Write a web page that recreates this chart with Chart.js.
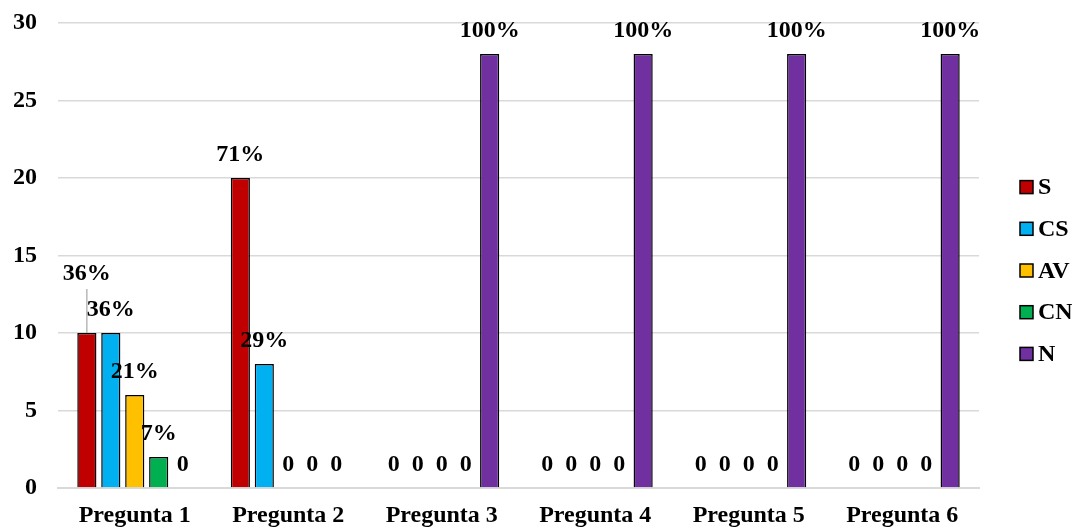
<!DOCTYPE html>
<html>
<head>
<meta charset="utf-8">
<script src="https://cdn.jsdelivr.net/npm/chart.js@4/dist/chart.umd.min.js"></script>
<style>
  html, body { margin: 0; padding: 0; background: #ffffff; }
  #wrap { width: 1072px; height: 527px; position: relative; }
</style>
</head>
<body>
<div id="wrap"><canvas id="chart"></canvas></div>
<script>
// Survey answers per question (number of respondents)
const categories = ['Pregunta 1', 'Pregunta 2', 'Pregunta 3', 'Pregunta 4', 'Pregunta 5', 'Pregunta 6'];
const seriesNames = ['S', 'CS', 'AV', 'CN', 'N'];
const valuesS  = [10, 20, 0, 0, 0, 0];
const valuesCS = [10, 8, 0, 0, 0, 0];
const valuesAV = [6, 0, 0, 0, 0, 0];
const valuesCN = [2, 0, 0, 0, 0, 0];
const valuesN  = [0, 0, 28, 28, 28, 28];
const respondents = 28;
const yTicks = [0, 5, 10, 15, 20, 25, 30];

const seriesValues = [valuesS, valuesCS, valuesAV, valuesCN, valuesN];
const seriesColors = ['#C00000', '#00B0F0', '#FFC000', '#00B050', '#7030A0'];

const FONT = "'Liberation Serif', 'Times New Roman', serif";
const FONT_SIZE = 24;

// Value labels: share of respondents, or "0" for empty answers
const valueLabels = {
  id: 'valueLabels',
  afterDatasetsDraw(chart, args, opts) {
    const ctx = chart.ctx;
    ctx.save();
    ctx.font = 'bold ' + FONT_SIZE + 'px ' + FONT;
    ctx.fillStyle = '#000';
    ctx.textAlign = 'center';
    ctx.textBaseline = 'middle';
    chart.data.datasets.forEach((ds, di) => {
      const meta = chart.getDatasetMeta(di);
      meta.data.forEach((bar, i) => {
        const v = ds.data[i];
        const text = v === 0 ? '0' : Math.round(v / respondents * 100) + '%';
        const lift = (opts.lifted.find(l => l.dataset === di && l.index === i) || {}).extra || 0;
        const y = bar.y - opts.offset - lift;
        if (lift) {
          ctx.save();
          ctx.strokeStyle = '#a6a6a6';
          ctx.lineWidth = 1.2;
          ctx.beginPath();
          ctx.moveTo(bar.x, y + 15);
          ctx.lineTo(bar.x, bar.y);
          ctx.stroke();
          ctx.restore();
        }
        ctx.fillText(text, bar.x, y);
      });
    });
    ctx.restore();
  }
};

// Legend column on the right
const sideLegend = {
  id: 'sideLegend',
  afterDraw(chart, args, opts) {
    const ctx = chart.ctx;
    const area = chart.chartArea;
    const x = area.right + opts.gap;
    const n = chart.data.datasets.length;
    const y0 = (area.top + area.bottom) / 2 + opts.shift - (n - 1) * opts.spacing / 2;
    ctx.save();
    ctx.font = 'bold ' + FONT_SIZE + 'px ' + FONT;
    ctx.textBaseline = 'middle';
    ctx.textAlign = 'left';
    chart.data.datasets.forEach((ds, i) => {
      const cy = y0 + i * opts.spacing;
      ctx.fillStyle = ds.backgroundColor;
      ctx.fillRect(x, cy - 6.5, 13, 13);
      ctx.strokeStyle = '#000';
      ctx.lineWidth = 1.5;
      ctx.strokeRect(x, cy - 6.5, 13, 13);
      ctx.fillStyle = '#000';
      ctx.fillText(ds.label, x + 18, cy + 1);
    });
    ctx.restore();
  }
};

const datasets = seriesNames.map((name, i) => ({
  label: name,
  data: seriesValues[i],
  backgroundColor: seriesColors[i],
  borderColor: '#000000',
  borderWidth: 1.5,
  categoryPercentage: 0.78,
  barPercentage: 0.8
}));

new Chart(document.getElementById('chart'), {
  type: 'bar',
  data: { labels: categories, datasets: datasets },
  options: {
    responsive: true,
    maintainAspectRatio: false,
    animation: false,
    devicePixelRatio: 1,
    layout: { padding: { left: 13, right: 93, top: 23, bottom: 0 } },
    plugins: {
      legend: { display: false },
      tooltip: { enabled: false },
      valueLabels: { offset: 23, lifted: [{ dataset: 0, index: 0, extra: 36 }] },
      sideLegend: { gap: 41, spacing: 41.7, shift: 15 }
    },
    scales: {
      x: {
        grid: { display: false, drawTicks: false },
        border: { display: true, color: '#d9d9d9', width: 2 },
        ticks: { color: '#000', padding: 13, font: { family: FONT, size: FONT_SIZE, weight: 'bold' } },
        afterFit(scale) { scale.height = 39; scale.paddingLeft = 0; scale.paddingRight = 0; }
      },
      y: {
        min: 0,
        max: 30,
        afterBuildTicks(scale) { scale.ticks = yTicks.map(v => ({ value: v })); },
        grid: { color: '#d9d9d9', lineWidth: 1.5, drawTicks: false },
        border: { display: false },
        ticks: { color: '#000', padding: 21, font: { family: FONT, size: FONT_SIZE, weight: 'bold' } },
        afterFit(scale) { scale.width = 45; scale.paddingTop = 0; scale.paddingBottom = 0; }
      }
    }
  },
  plugins: [valueLabels, sideLegend]
});
</script>
</body>
</html>
